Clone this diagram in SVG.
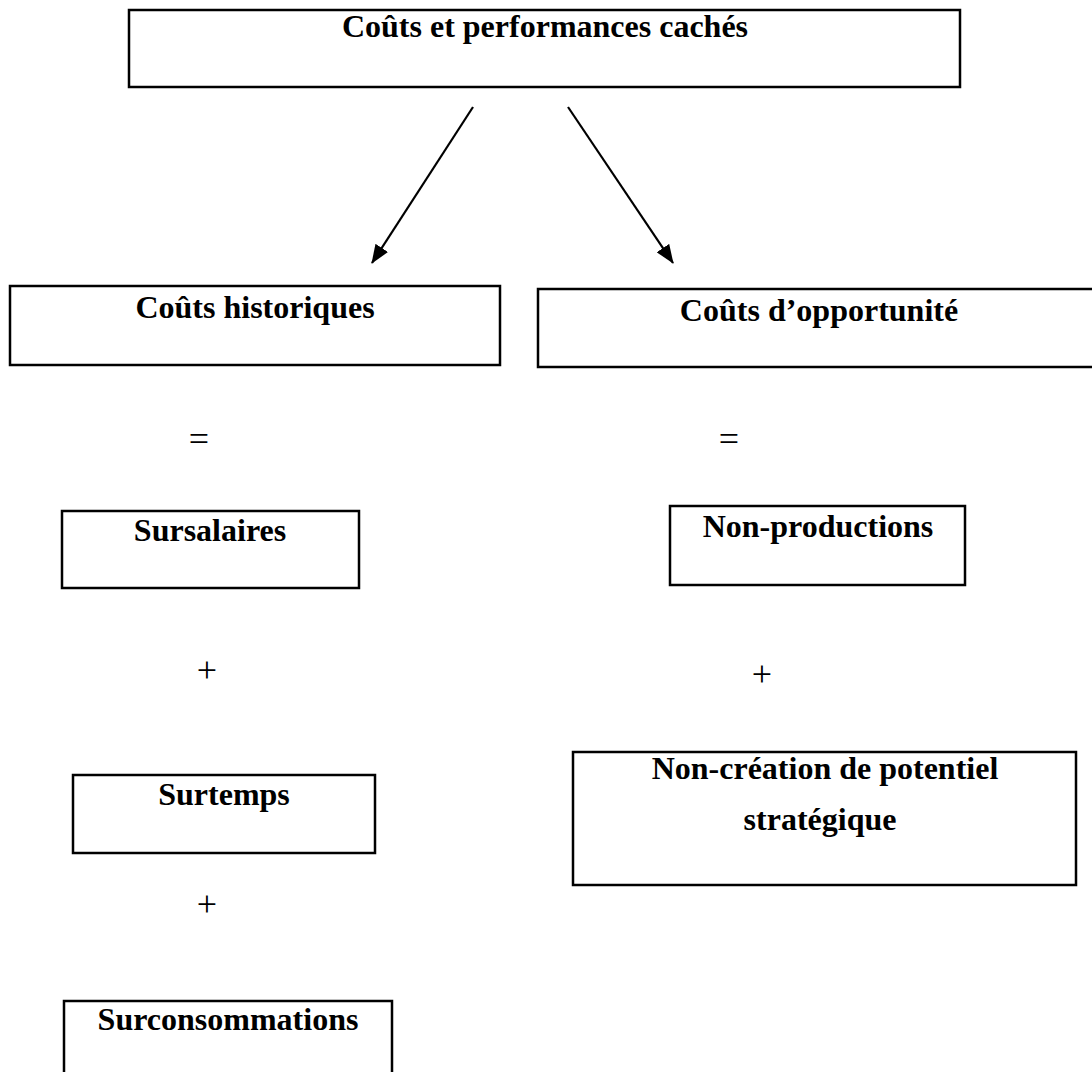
<svg xmlns="http://www.w3.org/2000/svg" width="1092" height="1072" viewBox="0 0 1092 1072">
  <style>
    .box { fill: #ffffff; stroke: #000000; stroke-width: 2.5; }
    .label { font-family: "Liberation Serif", "Times New Roman", serif; font-size: 32px; font-weight: bold; fill: #000000; text-anchor: middle; }
    .op { font-family: "Liberation Serif", "Times New Roman", serif; font-size: 36px; fill: #000000; text-anchor: middle; }
    .link { stroke: #000000; stroke-width: 2.2; fill: none; }
  </style>
  <defs>
    <marker id="arrow" viewBox="0 0 19 15" refX="18" refY="7.5" markerWidth="19" markerHeight="15" markerUnits="userSpaceOnUse" orient="auto">
      <path d="M0,0 L19,7.5 L0,15 z" fill="#000000"/>
    </marker>
  </defs>
  <rect width="1092" height="1072" fill="#ffffff"/>

  <g id="couts-caches">
    <rect class="box" x="129" y="10" width="831" height="77"/>
    <text class="label" x="545" y="37">Coûts et performances cachés</text>
  </g>

  <g id="connectors">
    <line class="link" x1="473" y1="107" x2="372" y2="263" marker-end="url(#arrow)"/>
    <line class="link" x1="568" y1="107" x2="673" y2="263" marker-end="url(#arrow)"/>
  </g>

  <g id="couts-historiques">
    <rect class="box" x="10" y="286" width="490" height="79"/>
    <text class="label" x="255" y="318">Coûts historiques</text>
  </g>

  <g id="couts-opportunite">
    <rect class="box" x="538" y="289" width="562" height="78"/>
    <text class="label" x="819" y="321">Coûts d’opportunité</text>
  </g>

  <!-- operators between the components -->
  <g id="operators">
    <text class="op" x="199" y="451">=</text>
    <text class="op" x="729" y="451">=</text>
    <text class="op" x="207" y="682">+</text>
    <text class="op" x="762" y="686">+</text>
    <text class="op" x="207" y="916">+</text>
  </g>

  <g id="sursalaires">
    <rect class="box" x="62" y="511" width="297" height="77"/>
    <text class="label" x="210" y="541">Sursalaires</text>
  </g>

  <g id="surtemps">
    <rect class="box" x="73" y="775" width="302" height="78"/>
    <text class="label" x="224" y="805">Surtemps</text>
  </g>

  <g id="surconsommations">
    <rect class="box" x="64" y="1001" width="328" height="90"/>
    <text class="label" x="228" y="1030">Surconsommations</text>
  </g>

  <g id="non-productions">
    <rect class="box" x="670" y="506" width="295" height="79"/>
    <text class="label" x="818" y="537">Non-productions</text>
  </g>

  <g id="non-creation">
    <rect class="box" x="573" y="752" width="503" height="133"/>
    <text class="label" x="825" y="779">Non-création de potentiel</text>
    <text class="label" x="820" y="830">stratégique</text>
  </g>
</svg>
